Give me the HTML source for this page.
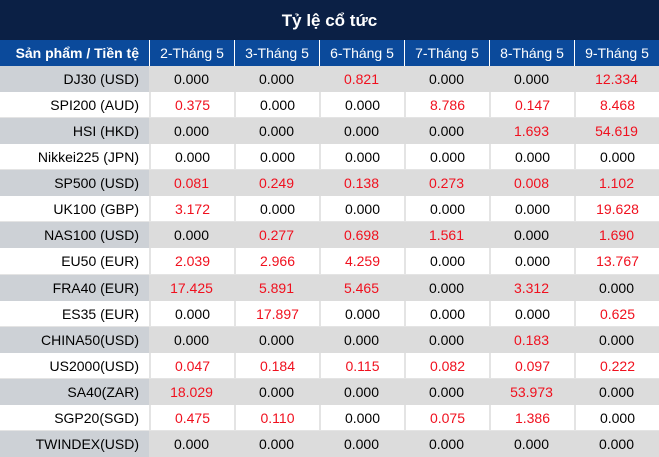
<!DOCTYPE html>
<html><head><meta charset="utf-8">
<style>
body{margin:0;width:659px;height:457px;overflow:hidden;background:#fff;font-family:"Liberation Sans","DejaVu Sans",sans-serif;}
#title{position:absolute;left:0;top:0;width:659px;height:40px;background:#0b2045;color:#fff;font-weight:bold;font-size:17px;text-align:center;line-height:42px;}
.c{position:absolute;box-sizing:border-box;font-size:14px;white-space:nowrap;}
.h{background:#0b4a9b;color:#fff;text-align:center;border-left:1px solid #fff;line-height:26px;}
.f{text-align:right;padding-right:10px;}
.n{text-align:center;}
.red{color:#f0101e;}
</style></head><body>
<div id="title">Tỷ lệ cổ tức</div>
<div id="t"></div>
<script>
const dates=["2-Tháng 5","3-Tháng 5","6-Tháng 5","7-Tháng 5","8-Tháng 5","9-Tháng 5"];
const products=["DJ30 (USD)","SPI200 (AUD)","HSI (HKD)","Nikkei225 (JPN)","SP500 (USD)","UK100 (GBP)","NAS100 (USD)","EU50 (EUR)","FRA40 (EUR)","ES35 (EUR)","CHINA50(USD)","US2000(USD)","SA40(ZAR)","SGP20(SGD)","TWINDEX(USD)"];
const values=[
["0.000","0.000","0.821","0.000","0.000","12.334"],
["0.375","0.000","0.000","8.786","0.147","8.468"],
["0.000","0.000","0.000","0.000","1.693","54.619"],
["0.000","0.000","0.000","0.000","0.000","0.000"],
["0.081","0.249","0.138","0.273","0.008","1.102"],
["3.172","0.000","0.000","0.000","0.000","19.628"],
["0.000","0.277","0.698","1.561","0.000","1.690"],
["2.039","2.966","4.259","0.000","0.000","13.767"],
["17.425","5.891","5.465","0.000","3.312","0.000"],
["0.000","17.897","0.000","0.000","0.000","0.625"],
["0.000","0.000","0.000","0.000","0.183","0.000"],
["0.047","0.184","0.115","0.082","0.097","0.222"],
["18.029","0.000","0.000","0.000","53.973","0.000"],
["0.475","0.110","0.000","0.075","1.386","0.000"],
["0.000","0.000","0.000","0.000","0.000","0.000"]];
const t=document.getElementById('t');
const colX=[0,149,234,319,404,489,574,659];
const rowTop=66, rowH=(457-66)/products.length;
function cell(x,y,w,h,cls,text){const d=document.createElement('div');d.className='c '+cls;d.style.left=x+'px';d.style.top=y+'px';d.style.width=w+'px';d.style.height=h+'px';d.style.lineHeight=h+'px';d.textContent=text;t.appendChild(d);return d;}
let hd=cell(0,40,149,26,'h f','Sản phẩm / Tiền tệ');hd.style.fontWeight='bold';hd.style.borderLeft='none';


dates.forEach((d,j)=>{const e=cell(colX[j+1],40,colX[j+2]-colX[j+1],26,'h',d);

});
products.forEach((p,i)=>{
 const y=Math.round(rowTop+i*rowH), h=Math.round(rowTop+(i+1)*rowH)-y;
 const grey=i%2===0;
 const f=cell(0,y,149,h,'f',p);f.style.background=grey?'#cdd1d6':'#fff';
 if(!grey)f.style.borderBottom='1px solid #e4e4e4';
 
 
 values[i].forEach((v,j)=>{const e=cell(colX[j+1],y,colX[j+2]-colX[j+1],h,'n'+(parseFloat(v)>0?' red':''),v);
  e.style.background=grey?'#dcdcdc':'#fff';
  if(!grey){e.style.borderLeft='2px solid #e4e4e4';e.style.borderBottom='1px solid #e4e4e4';}
  
  });
});
</script>
</body></html>
